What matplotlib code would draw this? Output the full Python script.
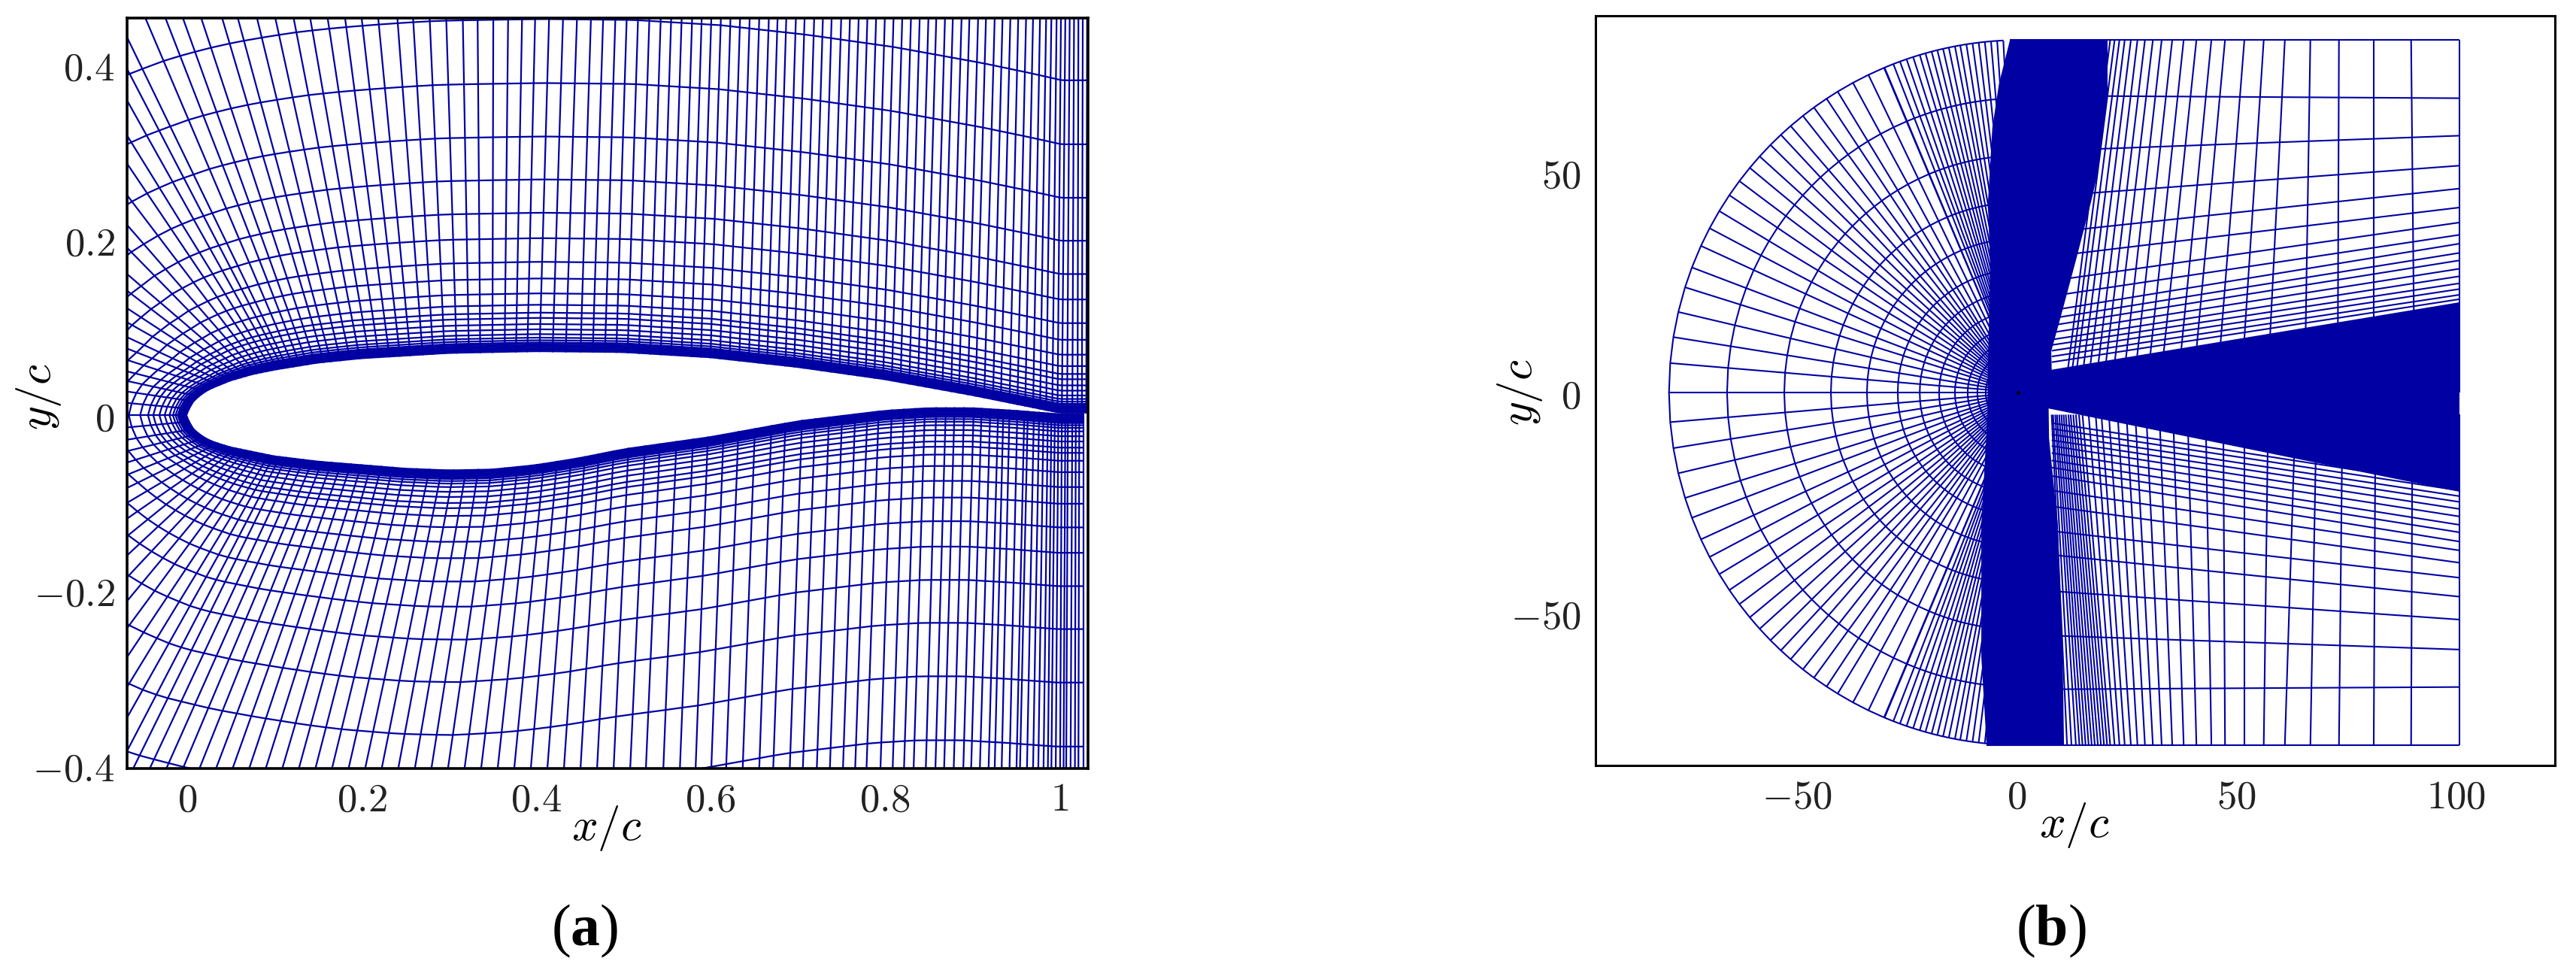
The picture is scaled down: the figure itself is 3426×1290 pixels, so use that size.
import numpy as np
import matplotlib
matplotlib.use("Agg")
import matplotlib.pyplot as plt
from matplotlib.collections import LineCollection

plt.rcParams['mathtext.fontset'] = 'cm'
# used only by the (a) and (b) captions
plt.rcParams['mathtext.bf'] = 'Liberation Serif:bold'

MESH = '#0000A3'
W, H = 3426, 1290

# Airfoil outline
foil_up_x = [0, .005, .01, .02, .03, .05, .075, .1, .15, .2, .3, .4, .5, .6, .7, .8, .9, .95, 1]
foil_up_y = [0, .012, .018, .026, .031, .039, .046, .051, .059, .064, .070, .072, .071, .065, .054, .04, .022, .012, .002]
foil_lo_x = [0, .005, .01, .02, .03, .05, .075, .1, .15, .2, .25, .3, .35, .4, .45, .5, .6, .7, .8, .85, .9, .95, 1]
foil_lo_y = [0, -.012, -.018, -.025, -.03, -.036, -.041, -.046, -.052, -.056, -.06, -.062, -.061, -.056, -.048, -.038, -.024, -.006, .006, .009, .009, .006, .002]

# Grid lines leaving the left edge of panel (a): crossing height and foot on the foil
up_left_y = [.431, .395, .359, .319, .287, .251, .217, .191, .161, .142, .122, .106, .089, .076, .063, .05, .039, .027, .014, 0.]
up_left_foot = [.115, .11, .104, .098, .092, .086, .08, .074, .068, .062, .056, .05, .044, .038, .03, .022, .014, .008, .003, 0.]
lo_left_y = [-.014, -.028, -.041, -.054, -.068, -.083, -.1, -.118, -.138, -.16, -.185, -.212, -.243, -.276, -.31, -.345, -.383]
lo_left_foot = [.003, .008, .014, .021, .028, .036, .043, .05, .056, .062, .068, .074, .08, .087, .094, .1, .107]

# Grid lines reaching the top edge
up_top_x = [-.048, -.025, -.005, .016, .04, .058, .08, .101, .122, .141,
            .161, .181, .2, .219, .241, .259, .278, .297, .316, .333,
            .351, .368, .384, .399, .415, .431, .447,
            .463, .477, .491, .504, .517, .53, .543, .555, .567, .579,
            .59, .601, .612, .623, .634, .645, .656, .667, .677, .687,
            .698, .708, .719, .729, .739, .75, .76, .77, .78, .79,
            .8, .81, .82, .83, .84, .85, .859, .869, .878, .888,
            .897, .907, .916, .926, .935, .944, .953, .962, .97, .978,
            .985, .991, .997, 1.002, 1.007, 1.012, 1.017, 1.022, 1.027, 1.032]
up_top_foot = [.122, .13, .138, .147, .157, .165, .176, .187, .198, .209,
               .22, .232, .244, .256, .27, .282, .295, .309, .323, .336,
               .35, .364, .377, .39, .404, .419, .434,
               .451, .465, .479, .492, .505, .518, .531, .543, .555, .567,
               .578, .589, .6, .611, .622, .633, .644, .655, .665, .675,
               .686, .696, .707, .717, .727, .738, .748, .758, .768, .778,
               .788, .798, .808, .818, .828, .838, .847, .857, .866, .876,
               .885, .895, .904, .914, .924, .933, .943, .952, .961, .97,
               .978, .985, .992, .998, 1.003, 1.009, 1.015, 1.021, 1.026, 1.031]

# Grid lines reaching the bottom edge
lo_bot_x = [-.062, -.043, -.024, -.005, .014, .033, .052, .071, .09, .109,
            .128, .147, .166, .185, .204, .223, .242, .261, .28, .299,
            .318, .337, .356, .375, .394, .413, .432, .451, .47, .489,
            .508, .526, .546, .565, .583, .601, .618, .637, .656, .672,
            .691, .706, .722, .737, .752, .766, .779, .795, .809, .822,
            .833, .847, .858, .868, .879, .89, .899, .909, .919, .926,
            .934, .943, .951, .955, .963, .97, .976, .982, .987, .991,
            .996, 1.001, 1.005, 1.008, 1.013, 1.018, 1.022, 1.028]
lo_bot_foot = [.114, .124, .134, .144, .155, .166, .177, .188, .2, .211,
               .223, .236, .25, .264, .278, .292, .306, .32, .334, .349,
               .364, .379, .394, .409, .424, .44, .456, .472, .489, .506,
               .525, .542, .561, .58, .597, .615, .632, .651, .67, .686,
               .705, .72, .736, .751, .766, .78, .793, .808, .822, .835,
               .846, .859, .87, .88, .891, .902, .911, .921, .93, .936,
               .943, .952, .96, .964, .971, .977, .982, .987, .991, .995,
               .999, 1.003, 1.007, 1.01, 1.015, 1.019, 1.023, 1.028]

# Distance of the wrap-around lines from the foil
wall_levels = [.001, .0024, .0038, .0052, .0066, .008, .0095, .011, .0135, .0165, .0205, .026,
               .032, .039, .045, .054, .067, .084, .103, .13, .159, .197, .246, .307, .38]

# Panel (b): far field
b_radius = 80
b_ray_y = [0, 6.7, 12.6, 18.3, 23.9, 28.4, 33.3, 37.3, 41.2, 44.8, 48, 51, 53.6, 56.2, 58.5,
           60.5, 62.8, 64.7, 66.7, 68.3, 70.3, 72.1, 73.7]
b_rim_x = [-30, -28, -26.5, -25, -23.5, -22, -20.7, -19.3, -18, -16.7, -15.4, -14, -12.8, -11.4,
           -10, -8.6, -7.2, -5.8, -4.4, -3]
b_arc_r = [80, 66.8, 53.8, 43.2, 35, 28, 23, 18.6, 15, 12.1, 9.9, 8, 6.5, 5.2, 4, 3, 2.2, 1.5]
b_st_top = [100.7, 89.7, 81.2, 73.3, 66.8, 61, 56.2, 51.8, 47.4, 44.3, 40.9, 38, 35.4, 33, 31,
            29.2, 27.5, 26, 24.6, 23.4, 22.3, 21.3]
b_st_foot_up = [100.7, 90.5, 81.2, 73, 65.5, 57, 51, 45.5, 40, 36.5, 32.5, 29.5, 26.5, 24, 21.5,
                19.5, 17.8, 16, 14.5, 13, 12, 11]
b_st_foot_lo = [100.7, 90, 81.6, 74.1, 68.2, 63.4, 57.2, 51.8, 47, 43, 38.9, 35.6, 32.5, 29.5, 27,
                25, 23, 21, 19.3, 18, 16.4, 15]
b_lo_extra_bot = [11.5, 12.5, 13.5, 14.3, 15, 15.7, 16.4, 17.1, 17.8, 18.5, 19.2, 19.9, 20.6]
b_lo_extra_foot = [8, 8.3, 8.8, 9.2, 9.7, 10.2, 10.7, 11.2, 11.8, 12.3, 12.9, 13.5, 14.2]
b_fan_right_y = [66.8, 58.3, 51.5, 46.3, 42, 38.6, 35.8, 33.8, 31.7, 30, 28.1, 26.4, 24.8, 23.5, 22.2, 21.2]
b_fan_left_y = [67.3, 55.2, 45.1, 36.9, 31.4, 25.8, 22.2, 18.9, 17, 15.4, 13.7, 12.1, 10.8, 9.5, 8.2, 6.9]
b_fan_left_x = [18, 16, 14.5, 13, 12, 11, 10, 9.5, 9, 9, 8.5, 8.5, 8, 8, 8, 8]
b_fan_left_x_lo = [10, 10, 9, 9, 8, 8, 8, 8, 8, 8, 8, 8, 8, 8, 8, 8]
b_top_x = [-1.5, 100.7]
b_bot_x = [-6.8, 100.7]
# Outline of the part of the grid that merges into solid colour
b_core_x = [-1.5, 20.7, 20.7, 18.5, 17, 13.5, 10, 7.9, 8, 100.7, 100.7, 7.3, 7.4, 9.4, 10.5, 10.8,
            -6.8, -8, -8, -6.6, -6.5, -6, -6.5, -5.5, -4]
b_core_y = [80, 80, 67, 50, 43.5, 30, 17, 9.4, 5.2, 20.5, -22.5, -3.6, -10.4, -30, -60, -80,
            -80, -60, -30, -5, 5, 29, 43, 60, 70]

a_xticks = [0, .2, .4, .6, .8, 1]
a_xlabels = ['$0$', '$0.2$', '$0.4$', '$0.6$', '$0.8$', '$1$']
a_yticks = [-.4, -.2, 0, .2, .4]
a_ylabels = ['$-0.4$', '$-0.2$', '$0$', '$0.2$', '$0.4$']
b_xticks = [-50, 0, 50, 100]
b_xlabels = ['$-50$', '$0$', '$50$', '$100$']
b_yticks = [-50, 0, 50]
b_ylabels = ['$-50$', '$0$', '$50$']


def px_axes(fig, left, right, top, bottom):
    return fig.add_axes([left / W, 1 - bottom / H, (right - left) / W, (bottom - top) / H])


def style_axes(ax, xlim, ylim, xticks, xlabels, yticks, ylabels, frame_lw, xpad, ypad):
    ax.set_xlim(*xlim)
    ax.set_ylim(*ylim)
    ax.set_xticks(xticks, xlabels)
    ax.set_yticks(yticks, ylabels)
    ax.tick_params(axis='x', length=0, pad=xpad, labelsize=38, colors='#222222')
    ax.tick_params(axis='y', length=0, pad=ypad, labelsize=38, colors='#222222')
    for spine in ax.spines.values():
        spine.set_linewidth(frame_lw)
        spine.set_zorder(10)


def text_px(fig, x, y, s, **kw):
    fig.text(x / W, 1 - y / H, s, ha='center', va='center', **kw)


fig = plt.figure(figsize=(W / 100, H / 100), dpi=100, facecolor='white')

# ---- panel (a): near field around the foil ----
ax_a = px_axes(fig, 169, 1447, 24, 1022)
a_xlim = (-.069, 1.033)
a_ylim = (-.403, .453)

lo_bot_x_r, lo_bot_foot_r = np.array(lo_bot_x)[::-1], np.array(lo_bot_foot)[::-1]
foot_x = np.concatenate([lo_bot_foot_r, np.array(lo_left_foot)[::-1], up_left_foot[::-1], up_top_foot])
foot_y = np.concatenate([
    np.interp(lo_bot_foot_r, foil_lo_x, foil_lo_y),
    np.interp(np.array(lo_left_foot)[::-1], foil_lo_x, foil_lo_y),
    np.interp(up_left_foot[::-1], foil_up_x, foil_up_y),
    np.interp(up_top_foot, foil_up_x, foil_up_y),
])
end_x = np.concatenate([lo_bot_x_r, np.full(len(lo_left_y), a_xlim[0]),
                        np.full(len(up_left_y), a_xlim[0]), up_top_x])
end_y = np.concatenate([np.full(len(lo_bot_x), a_ylim[0]), np.array(lo_left_y)[::-1],
                        up_left_y[::-1], np.full(len(up_top_x), a_ylim[1])])
dx, dy = end_x - foot_x, end_y - foot_y
length = np.hypot(dx, dy)
ux, uy = dx / length, dy / length

a_segs = [np.column_stack([[foot_x[i], end_x[i]], [foot_y[i], end_y[i]]]) for i in range(len(foot_x))]
for d in wall_levels:
    a_segs.append(np.column_stack([foot_x + d * ux, foot_y + d * uy]))
ax_a.add_collection(LineCollection(a_segs, colors=MESH, linewidths=1.6))
style_axes(ax_a, a_xlim, a_ylim, a_xticks, a_xlabels, a_yticks, a_ylabels, 2.6, 11, 12)

# ---- panel (b): whole domain ----
ax_b = px_axes(fig, 2122, 3398, 21, 1018)
ray_y = np.array(b_ray_y)
rim_x = np.array(b_rim_x)
quarter_x = np.concatenate([1 - np.sqrt(b_radius ** 2 - ray_y ** 2), rim_x])
quarter_y = np.concatenate([ray_y, np.sqrt(b_radius ** 2 - (rim_x - 1) ** 2)])
left_x = np.concatenate([quarter_x[:0:-1], quarter_x])
left_y = np.concatenate([-quarter_y[:0:-1], quarter_y])
b_segs = [np.column_stack([[1, x], [0, y]]) for x, y in zip(left_x, left_y)]
for r in b_arc_r:
    b_segs.append(np.column_stack([1 + (left_x - 1) * r / b_radius, left_y * r / b_radius]))
for top, foot in zip(b_st_top, b_st_foot_up):
    b_segs.append(np.column_stack([[top, foot], [80, 0]]))
for bot, foot in zip(b_st_top + b_lo_extra_bot, b_st_foot_lo + b_lo_extra_foot):
    b_segs.append(np.column_stack([[bot, foot], [-80, -5]]))
for yl, yr, xl in zip(b_fan_left_y, b_fan_right_y, b_fan_left_x):
    b_segs.append(np.column_stack([[xl, b_st_top[0]], [yl, yr]]))
for yl, yr, xl in zip(b_fan_left_y, b_fan_right_y, b_fan_left_x_lo):
    b_segs.append(np.column_stack([[xl, b_st_top[0]], [-yl, -yr]]))
b_segs.append(np.column_stack([b_top_x, [80, 80]]))
b_segs.append(np.column_stack([b_bot_x, [-80, -80]]))
ax_b.add_collection(LineCollection(b_segs, colors=MESH, linewidths=1.5))
ax_b.fill(b_core_x, b_core_y, color=MESH, lw=0)
ax_b.plot([.4], [0], 'o', color='black', ms=2.5)
style_axes(ax_b, (-95.7, 122.4), (-84.6, 85.5), b_xticks, b_xlabels, b_yticks, b_ylabels, 2.2, 11, 14)

# Labels placed by hand, the layout is fixed in pixels
text_px(fig, 807, 1102, '$x/c$', fontsize=44, color='black')
text_px(fig, 2759, 1098, '$x/c$', fontsize=44, color='black')
text_px(fig, 52, 528, '$y/c$', fontsize=44, rotation=90, color='black')
text_px(fig, 2022, 522, '$y/c$', fontsize=44, rotation=90, color='black')
text_px(fig, 778, 1238, r'($\mathbf{a}$)', fontsize=56, family='Liberation Serif', math_fontfamily='custom')
text_px(fig, 2728, 1238, r'($\mathbf{b}$)', fontsize=56, family='Liberation Serif', math_fontfamily='custom')

fig.savefig('out.png', dpi=100, facecolor='white')
